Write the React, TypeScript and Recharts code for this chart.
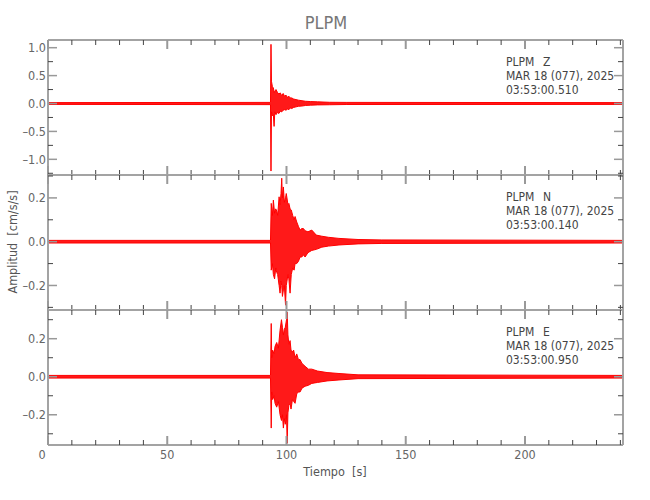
import { AreaChart, Area, XAxis, YAxis } from 'recharts';

const FONT = '"Liberation Sans Narrow", "DejaVu Sans Condensed", "Arial Narrow", sans-serif';
const AXIS = '#a3a3a3';
const TICK_DARK = '#444';
const TEXT = '#666';
const TRACE = '#ff0000';

const station = 'PLPM';
const dateLabel = 'MAR 18 (077), 2025';

const timeTicks = [0, 10, 20, 30, 40, 50, 60, 70, 80, 90, 100, 110, 120, 130, 140, 150, 160, 170, 180, 190, 200, 210, 220, 230, 240];
const zTicks = [-1.25, -1, -0.75, -0.5, -0.25, 0, 0.25, 0.5, 0.75, 1];
const neTicks = [-0.3, -0.2, -0.1, 0, 0.1, 0.2, 0.3];

// [time s, lower envelope, upper envelope]
const zEnvelope: [number, number, number][] = [
  [0, -0.016, 0.016], [93.3, -0.02, 0.02], [93.5, -1.21, 1.06], [93.7, -0.15, 0.4],
  [94.1, -0.22, 0.3], [94.5, -0.2, 0.28], [94.8, -0.41, 0.2], [95.1, -0.15, 0.22],
  [95.6, -0.2, 0.25], [96.2, -0.16, 0.2], [96.8, -0.18, 0.17], [97.4, -0.14, 0.19],
  [98.0, -0.15, 0.14], [98.6, -0.12, 0.18], [99.2, -0.11, 0.13], [99.8, -0.12, 0.15],
  [100.4, -0.1, 0.11], [101.0, -0.11, 0.13], [101.6, -0.08, 0.1], [102.2, -0.09, 0.1],
  [103.0, -0.07, 0.08], [104.0, -0.06, 0.07], [105.0, -0.05, 0.06], [106.5, -0.045, 0.05],
  [108.0, -0.035, 0.04], [110, -0.03, 0.035], [113, -0.025, 0.03], [118, -0.022, 0.022],
  [125, -0.018, 0.02], [241, -0.016, 0.016],
];

const nEnvelope: [number, number, number][] = [
  [0, -0.006, 0.006], [93.3, -0.006, 0.006], [93.6, -0.13, 0.175], [94.1, -0.1, 0.12],
  [94.5, -0.15, 0.19], [95.0, -0.17, 0.13], [95.5, -0.12, 0.15], [95.9, -0.14, 0.14],
  [96.3, -0.15, 0.12], [96.9, -0.2, 0.205], [97.3, -0.235, 0.17], [97.7, -0.18, 0.22],
  [98.0, -0.2, 0.29], [98.3, -0.25, 0.2], [98.7, -0.22, 0.25], [99.1, -0.2, 0.18],
  [99.6, -0.29, 0.2], [99.9, -0.2, 0.22], [100.2, -0.18, 0.2], [100.6, -0.15, 0.17],
  [101.0, -0.17, 0.175], [101.5, -0.235, 0.15], [102.0, -0.15, 0.145], [102.6, -0.12, 0.12],
  [103.2, -0.13, 0.1], [103.6, -0.1, 0.115], [104.3, -0.1, 0.09], [105.0, -0.09, 0.07],
  [105.7, -0.07, 0.053], [106.4, -0.07, 0.06], [107.1, -0.06, 0.06], [107.8, -0.07, 0.05],
  [109.0, -0.05, 0.045], [110.6, -0.04, 0.053], [112.5, -0.035, 0.03], [114.8, -0.025, 0.025],
  [117.6, -0.02, 0.02], [122, -0.015, 0.015], [130, -0.01, 0.01], [140, -0.008, 0.008],
  [241, -0.006, 0.006],
];

const eEnvelope: [number, number, number][] = [
  [0, -0.007, 0.007], [93.3, -0.007, 0.007], [93.6, -0.27, 0.28], [93.8, -0.08, 0.1],
  [94.2, -0.12, 0.14], [94.8, -0.1, 0.12], [95.2, -0.14, 0.16], [95.9, -0.16, 0.18],
  [96.6, -0.13, 0.15], [97.3, -0.2, 0.245], [97.9, -0.23, 0.3], [98.3, -0.2, 0.26],
  [98.7, -0.27, 0.22], [99.1, -0.22, 0.25], [99.5, -0.25, 0.26], [100.0, -0.2, 0.3],
  [100.3, -0.35, 0.34], [100.6, -0.19, 0.22], [101.0, -0.15, 0.17], [101.5, -0.14, 0.19],
  [101.9, -0.17, 0.14], [102.5, -0.12, 0.13], [103.0, -0.13, 0.14], [103.6, -0.14, 0.1],
  [104.3, -0.09, 0.12], [105.0, -0.08, 0.09], [105.7, -0.08, 0.09], [106.5, -0.06, 0.07],
  [107.8, -0.05, 0.055], [109.2, -0.045, 0.04], [110.6, -0.035, 0.04], [113, -0.03, 0.03],
  [117, -0.022, 0.022], [122, -0.017, 0.017], [130, -0.01, 0.01], [241, -0.007, 0.007],
];

const fmt = (v: number) => v.toFixed(1).replace('-', '\u2013');

const zMajor = (v: number) => Math.abs(Math.round(v * 100) % 50) === 0;
const neMajor = (v: number) => Math.abs(Math.round(v * 10) % 2) === 0;
const tMajor = (v: number) => v % 50 === 0;

function leftTick(isMajor: (v: number) => boolean) {
  return (p: any) => {
    const v = p.payload.value;
    const m = isMajor(v);
    return (
      <g>
        <line x1={p.x} x2={p.x + (m ? 9 : 5)} y1={p.y} y2={p.y} stroke={m ? '#999' : TICK_DARK} strokeWidth={m ? 1.5 : 1} />
        {m && (
          <text x={p.x - 2} y={p.y} dy="0.36em" textAnchor="end" fill={TEXT} fontSize={12.5} fontFamily={FONT}>
            {fmt(v)}
          </text>
        )}
      </g>
    );
  };
}

function rightTick(isMajor: (v: number) => boolean) {
  return (p: any) => {
    const m = isMajor(p.payload.value);
    return <line x1={p.x} x2={p.x - (m ? 9 : 5)} y1={p.y} y2={p.y} stroke={m ? '#999' : TICK_DARK} strokeWidth={m ? 1.5 : 1} />;
  };
}

function topTick(p: any) {
  const m = tMajor(p.payload.value);
  return <line x1={p.x} x2={p.x} y1={p.y} y2={p.y + (m ? 9 : 5)} stroke={m ? '#999' : TICK_DARK} strokeWidth={m ? 2 : 1} />;
}

function bottomTick(labels: boolean) {
  return (p: any) => {
    const v = p.payload.value;
    const m = tMajor(v);
    return (
      <g>
        <line x1={p.x} x2={p.x} y1={p.y} y2={p.y - (m ? 9 : 5)} stroke={m ? '#999' : TICK_DARK} strokeWidth={m ? 2 : 1} />
        {labels && m && (
          <text x={v === 0 ? p.x - 6 : p.x} y={p.y + 14} textAnchor="middle" fill={TEXT} fontSize={12.5} fontFamily={FONT}>
            {v}
          </text>
        )}
      </g>
    );
  };
}

interface PanelProps {
  top: number;
  envelope: [number, number, number][];
  domain: [number, number];
  ticks: number[];
  isMajor: (v: number) => boolean;
  last?: boolean;
}

function Panel({ top, envelope, domain, ticks, isMajor, last }: PanelProps) {
  const data = envelope.map(([t, lo, hi]) => ({ t, v: [lo, hi] }));
  const bottomH = last ? 40 : 10;
  return (
    <div style={{ position: 'absolute', left: 0, top: top - 10 }}>
      <AreaChart width={650} height={135 + 10 + bottomH} data={data} margin={{ top: 0, right: 0, bottom: 0, left: 0 }}>
        <XAxis
          xAxisId="b"
          dataKey="t"
          type="number"
          domain={[0, 241.1]}
          ticks={timeTicks}
          interval={0}
          height={bottomH}
          tickSize={0}
          tickMargin={0}
          tickLine={false}
          axisLine={{ stroke: AXIS, strokeWidth: 2 }}
          tick={bottomTick(!!last)}
          allowDataOverflow
        />
        <XAxis
          xAxisId="t"
          orientation="top"
          dataKey="t"
          type="number"
          domain={[0, 241.1]}
          ticks={timeTicks}
          interval={0}
          height={10}
          tickSize={0}
          tickMargin={0}
          tickLine={false}
          axisLine={{ stroke: AXIS, strokeWidth: 2 }}
          tick={topTick}
          allowDataOverflow
        />
        <YAxis
          yAxisId="l"
          type="number"
          domain={domain}
          ticks={ticks}
          interval={0}
          width={48}
          tickSize={0}
          tickMargin={0}
          tickLine={false}
          axisLine={{ stroke: AXIS, strokeWidth: 2 }}
          tick={leftTick(isMajor)}
          allowDataOverflow
        />
        <YAxis
          yAxisId="r"
          orientation="right"
          type="number"
          domain={domain}
          ticks={ticks}
          interval={0}
          width={27}
          tickSize={0}
          tickMargin={0}
          tickLine={false}
          axisLine={{ stroke: AXIS, strokeWidth: 2 }}
          tick={rightTick(isMajor)}
          allowDataOverflow
        />
        <Area
          xAxisId="t"
          yAxisId="r"
          type="linear"
          dataKey="v"
          stroke="none"
          fill="none"
          isAnimationActive={false}
          activeDot={false}
        />
        <Area
          xAxisId="b"
          yAxisId="l"
          type="linear"
          dataKey="v"
          stroke={TRACE}
          strokeWidth={1}
          fill={TRACE}
          fillOpacity={0.9}
          isAnimationActive={false}
          activeDot={false}
        />
      </AreaChart>
    </div>
  );
}

const panels = [
  { comp: 'Z', time: '03:53:00.510', top: 40 },
  { comp: 'N', time: '03:53:00.140', top: 175 },
  { comp: 'E', time: '03:53:00.950', top: 310 },
];

export default function App() {
  return (
    <div style={{ position: 'absolute', left: 0, top: 0, width: 650, height: 500, background: '#fff' }}>
      <Panel top={40} envelope={zEnvelope} domain={[-1.281, 1.138]} ticks={zTicks} isMajor={zMajor} />
      <Panel top={175} envelope={nEnvelope} domain={[-0.312, 0.3046]} ticks={neTicks} isMajor={neMajor} />
      <Panel top={310} envelope={eEnvelope} domain={[-0.359, 0.351]} ticks={neTicks} isMajor={neMajor} last />
      <svg width={650} height={500} style={{ position: 'absolute', left: 0, top: 0, pointerEvents: 'none' }} fontFamily={FONT}>
        <text x={326} y={29} textAnchor="middle" fontSize={18} fill="#777">
          {station}
        </text>
        <text x={335} y={476} textAnchor="middle" fontSize={12.5} fill="#555" style={{ whiteSpace: 'pre' }}>
          {'Tiempo  [s]'}
        </text>
        <text transform="translate(17,242) rotate(-90)" textAnchor="middle" fontSize={12.5} fill="#555" style={{ whiteSpace: 'pre' }}>
          {'Amplitud  [cm/s/s]'}
        </text>
        {panels.map((p) => (
          <g key={p.comp} fill="#444" fontSize={12}>
            <text x={506} y={p.top + 26}>{station}</text>
            <text x={543} y={p.top + 26}>{p.comp}</text>
            <text x={506} y={p.top + 40}>{dateLabel}</text>
            <text x={506} y={p.top + 54}>{p.time}</text>
          </g>
        ))}
      </svg>
    </div>
  );
}
